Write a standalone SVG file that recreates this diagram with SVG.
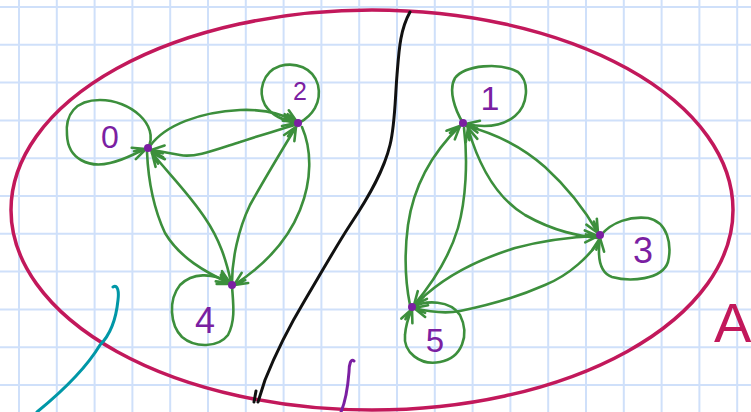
<svg xmlns="http://www.w3.org/2000/svg" width="751" height="412" viewBox="0 0 751 412">
<defs>
<style>
.grid line{stroke:#cfe0fa;stroke-width:2}
.edge{fill:none;stroke:#3c8f3c;stroke-width:2.6;stroke-linecap:round;stroke-linejoin:round}
.dot{fill:#7b1fa2}
.lbl{font-family:"Liberation Sans",Arial,sans-serif;fill:#7b1fa2;text-anchor:middle}
.ink{fill:none;stroke-linecap:round;stroke-linejoin:round}
</style>
<marker id="ah" markerUnits="userSpaceOnUse" markerWidth="30" markerHeight="30" viewBox="-15 -15 30 30" refX="0" refY="0" orient="auto">
<path d="M-13,-6 L0,0 L-13,6 M-12,-2 L0,0" fill="none" stroke="#3c8f3c" stroke-width="2.6" stroke-linecap="round"/>
</marker>
</defs>
<rect width="751" height="412" fill="#ffffff"/>
<g class="grid">
<line x1="19" y1="0" x2="19" y2="412"/><line x1="56.8" y1="0" x2="56.8" y2="412"/><line x1="94.6" y1="0" x2="94.6" y2="412"/><line x1="132.4" y1="0" x2="132.4" y2="412"/><line x1="170.2" y1="0" x2="170.2" y2="412"/><line x1="208" y1="0" x2="208" y2="412"/><line x1="245.8" y1="0" x2="245.8" y2="412"/><line x1="283.6" y1="0" x2="283.6" y2="412"/><line x1="321.4" y1="0" x2="321.4" y2="412"/><line x1="359.2" y1="0" x2="359.2" y2="412"/><line x1="397" y1="0" x2="397" y2="412"/><line x1="434.8" y1="0" x2="434.8" y2="412"/><line x1="472.6" y1="0" x2="472.6" y2="412"/><line x1="510.4" y1="0" x2="510.4" y2="412"/><line x1="548.2" y1="0" x2="548.2" y2="412"/><line x1="586" y1="0" x2="586" y2="412"/><line x1="623.8" y1="0" x2="623.8" y2="412"/><line x1="661.6" y1="0" x2="661.6" y2="412"/><line x1="699.4" y1="0" x2="699.4" y2="412"/><line x1="737.2" y1="0" x2="737.2" y2="412"/>
<line x1="0" y1="7" x2="751" y2="7"/><line x1="0" y1="44.8" x2="751" y2="44.8"/><line x1="0" y1="82.6" x2="751" y2="82.6"/><line x1="0" y1="120.4" x2="751" y2="120.4"/><line x1="0" y1="158.2" x2="751" y2="158.2"/><line x1="0" y1="196" x2="751" y2="196"/><line x1="0" y1="233.8" x2="751" y2="233.8"/><line x1="0" y1="271.6" x2="751" y2="271.6"/><line x1="0" y1="309.4" x2="751" y2="309.4"/><line x1="0" y1="347.2" x2="751" y2="347.2"/><line x1="0" y1="385" x2="751" y2="385"/>
</g>
<g id="setA">
<ellipse cx="372" cy="210" rx="361" ry="200" fill="none" stroke="#c2185b" stroke-width="3.5"/>
<text x="714" y="342" font-family="'Liberation Sans',Arial,sans-serif" font-size="56" fill="#c2185b">A</text>
</g>
<g id="cut">
<path class="ink" stroke="#111111" stroke-width="3" d="M410,12 C400,30 399,50 397,75 C395,100 395,125 390,145 C384,170 370,195 350,225 C335,248 320,275 305,300 C290,325 275,355 265,380 L258,402 M254,402 L256,391"/>
</g>
<g id="teal-stroke">
<path class="ink" stroke="#0097a7" stroke-width="3" d="M113,287 C118,284 119,292 118,300 C116,320 110,335 100,345 C88,365 70,385 37,412"/>
</g>
<g id="purple-stroke">
<path class="ink" stroke="#7b1fa2" stroke-width="3" d="M354,361 C351,358 349,364 349,372 C348,385 346,400 341,412"/>
</g>
<g id="connectors">
<path class="edge" marker-end="url(#ah)" d="M150,146 C165,125 200,112 240,110 C265,109 285,115 297,122"/>
<path class="edge" marker-end="url(#ah)" d="M297,124 C280,130 260,135 240,142 C215,150 195,158 180,155 C168,153 160,151 151,150"/>
<path class="edge" marker-end="url(#ah)" d="M147,152 C148,175 152,205 165,233 C180,258 205,272 231,284"/>
<path class="edge" marker-end="url(#ah)" d="M231,282 C226,260 220,240 205,218 C190,195 170,175 152,153"/>
<path class="edge" marker-end="url(#ah)" d="M232,283 C232,260 238,230 250,205 C265,178 282,150 296,127"/>
<path class="edge" marker-end="url(#ah)" d="M302,127 C312,150 312,180 300,210 C288,240 265,265 234,285"/>
<path class="edge" marker-end="url(#ah)" d="M148,148 C160,125 130,100 100,100 C75,100 65,115 67,135 C68,160 90,168 110,163 C125,160 135,153 146,149"/>
<path class="edge" marker-end="url(#ah)" d="M299,123 C312,116 322,103 318,85 C313,67 295,62 280,66 C262,72 258,92 265,105 C272,116 283,120 296,123"/>
<path class="edge" marker-end="url(#ah)" d="M232,286 C233,302 236,320 228,335 C218,348 195,348 182,337 C170,325 168,300 180,285 C192,273 212,272 230,283"/>
<path class="edge" marker-end="url(#ah)" d="M466,126 C490,132 520,145 545,167 C568,188 585,210 598,233"/>
<path class="edge" marker-end="url(#ah)" d="M598,238 C580,236 555,232 525,215 C500,200 480,170 468,128"/>
<path class="edge" marker-end="url(#ah)" d="M410,305 C406,285 404,255 408,225 C413,190 430,155 460,126"/>
<path class="edge" marker-end="url(#ah)" d="M464,128 C468,160 466,200 458,228 C450,255 435,280 414,305"/>
<path class="edge" marker-end="url(#ah)" d="M418,302 C440,280 470,262 515,248 C545,240 570,237 598,236"/>
<path class="edge" marker-end="url(#ah)" d="M600,240 C590,255 570,275 545,285 C520,296 490,305 460,311 C445,314 430,312 414,308"/>
<path class="edge" marker-end="url(#ah)" d="M463,123 C455,110 448,90 455,78 C465,65 500,62 518,72 C530,82 528,105 515,116 C503,126 485,128 466,124"/>
<path class="edge" marker-end="url(#ah)" d="M601,235 C612,222 630,216 648,218 C668,222 672,245 668,262 C662,280 630,282 612,277 C598,272 598,252 600,238"/>
<path class="edge" marker-end="url(#ah)" d="M413,307 C426,300 450,300 460,315 C470,335 462,358 440,362 C420,366 403,352 405,335 C406,322 409,316 412,309"/>
</g>
<g id="node0"><circle class="dot" cx="148" cy="148" r="4"/><text class="lbl" x="110" y="148" font-size="32">0</text></g>
<g id="node2"><circle class="dot" cx="298" cy="123" r="4"/><text class="lbl" x="300" y="100" font-size="25">2</text></g>
<g id="node4"><circle class="dot" cx="232" cy="285" r="4"/><text class="lbl" x="205" y="333" font-size="36">4</text></g>
<g id="node1"><circle class="dot" cx="463" cy="123" r="4"/><text class="lbl" x="490" y="110" font-size="34">1</text></g>
<g id="node3"><circle class="dot" cx="600" cy="235" r="4"/><text class="lbl" x="643" y="263" font-size="36">3</text></g>
<g id="node5"><circle class="dot" cx="412" cy="307" r="4"/><text class="lbl" x="435" y="352" font-size="33">5</text></g>
</svg>
